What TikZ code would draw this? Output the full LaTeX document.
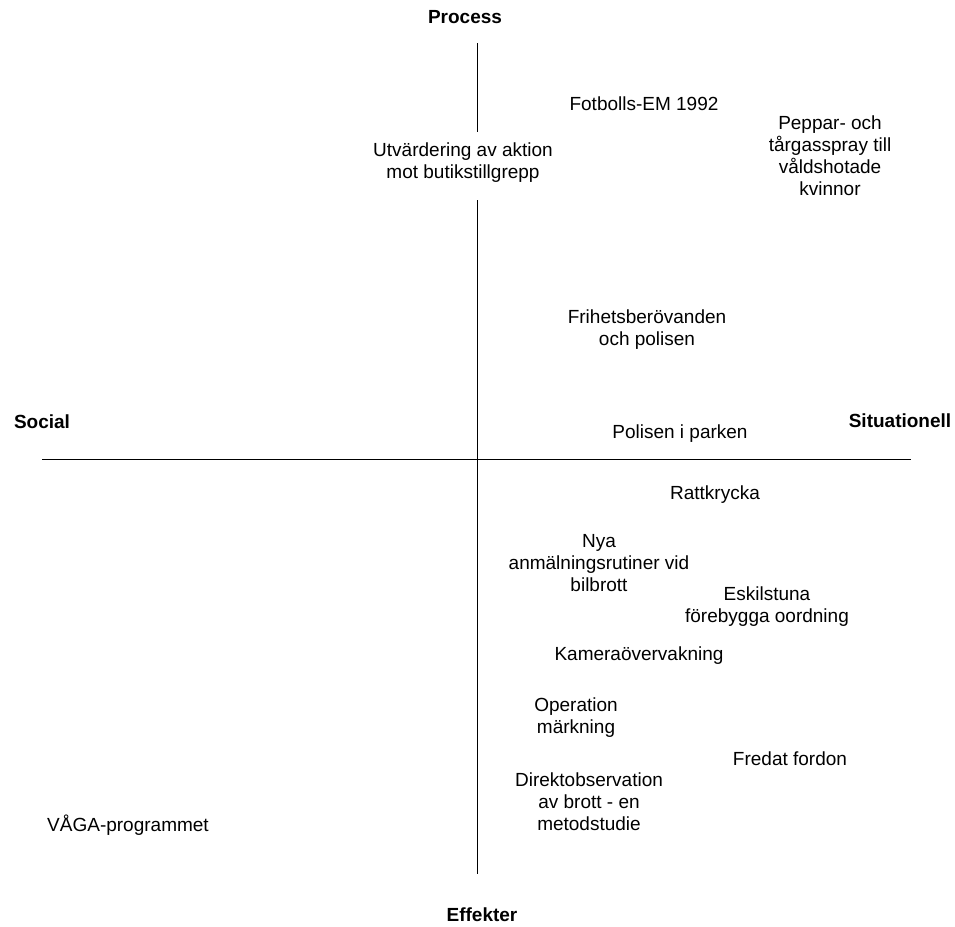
\documentclass[tikz,border=0pt]{standalone}
\usepackage{fontspec}
\setmainfont{Liberation Sans}
\begin{document}
\begin{tikzpicture}[x=1pt,y=-1pt,
  lbl/.style={inner sep=0pt,align=center,font=\fontsize{19}{22}\selectfont},
  axislbl/.style={inner sep=0pt,font=\fontsize{19}{22}\selectfont\bfseries},
  axis/.style={line width=1pt,black}]
\useasboundingbox[fill=white] (0,0) rectangle (955,926);
% axis end points
\coordinate (vtop) at (477,43);
\coordinate (vgap1) at (477,132);
\coordinate (vgap2) at (477,200);
\coordinate (vbot) at (477,874);
\coordinate (hleft) at (42,459);
\coordinate (hright) at (911,459);
\draw[axis] (vtop) -- (vgap1);
\draw[axis] (vgap2) -- (vbot);
\draw[axis] (hleft) -- (hright);
% axis labels
\node[axislbl] (process) at (465,17) {Process};
\node[axislbl] (effekter) at (482,915) {Effekter};
\node[axislbl] (social) at (42,422) {Social};
\node[axislbl] (situ) at (900,421) {Situationell};
% items
\node[lbl] (utv) at (463,163) {Utvärdering av aktion\\mot butikstillgrepp};
\node[lbl] (fot) at (644,104) {Fotbolls-EM 1992};
\node[lbl] (pep) at (830,156) {Peppar- och\\tårgasspray till\\våldshotade\\kvinnor};
\node[lbl] (fri) at (647,330) {Frihetsberövanden\\och polisen};
\node[lbl] (pol) at (680,434) {Polisen i parken};
\node[lbl] (ratt) at (715,495) {Rattkrycka};
\node[lbl] (nya) at (599,563) {Nya\\anmälningsrutiner vid\\bilbrott};
\node[lbl] (esk) at (767,607) {Eskilstuna\\förebygga oordning};
\node[lbl] (kam) at (639,656) {Kameraövervakning};
\node[lbl] (ope) at (576,718) {Operation\\märkning};
\node[lbl] (fre) at (790,759) {Fredat fordon};
\node[lbl] (dir) at (589,802) {Direktobservation\\av brott - en\\metodstudie};
\node[lbl] (vaga) at (128,825) {VÅGA-programmet};
\end{tikzpicture}
\end{document}
